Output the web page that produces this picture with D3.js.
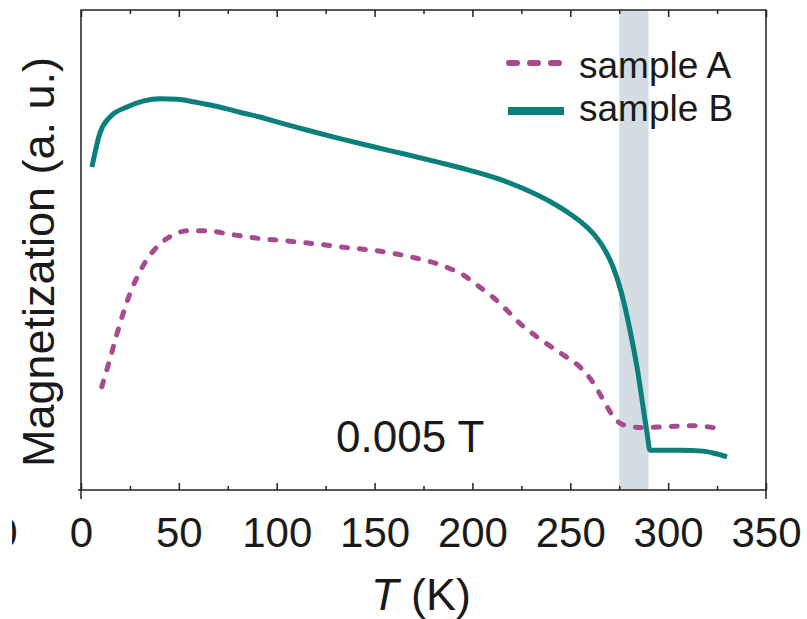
<!DOCTYPE html>
<html>
<head>
<meta charset="utf-8">
<script src="https://cdn.jsdelivr.net/npm/d3@7"></script>
<style>
  html, body { margin: 0; padding: 0; background: #fff; }
  svg { display: block; }
  text { font-family: "Liberation Sans", Arial, sans-serif; fill: #1a1a1a; }
</style>
</head>
<body>
<svg id="chart" width="807" height="619"></svg>
<script>
// ---- data (T in K, magnetization in arbitrary units 0..100) ----
const sampleA_T = [10.6, 14.8, 18.2, 21.6, 25.0, 28.5, 32.7, 38.7, 45.5, 54.8, 65.0, 74.4, 83.8, 93.1, 102.5, 111.9, 122.1, 131.5, 140.9, 150.2, 159.6, 169.0, 178.3, 186.9, 195.3, 203.0, 210.7, 217.5, 224.3, 232.0, 239.6, 247.3, 255.0, 261.6, 266.7, 271.8, 276.9, 287.2, 299.4, 312.7, 321.4, 328.0];
const sampleA_M = [21.5, 27.3, 32.3, 36.9, 40.9, 44.2, 47.4, 50.6, 52.8, 54.0, 54.0, 53.4, 52.8, 52.3, 52.0, 51.6, 51.2, 50.7, 50.3, 49.9, 49.3, 48.5, 47.6, 46.4, 44.8, 42.5, 40.1, 37.5, 34.7, 32.2, 30.0, 27.9, 25.6, 22.4, 18.9, 15.4, 13.6, 13.0, 13.2, 13.4, 13.1, 12.6];

const sampleB_T = [5.6, 9.7, 14.8, 23.5, 31.7, 40.4, 49.0, 57.2, 65.9, 74.6, 82.0, 91.5, 98.3, 115.3, 132.3, 149.4, 166.4, 183.4, 200.4, 214.1, 227.7, 239.6, 249.9, 257.0, 263.0, 268.0, 272.0, 276.0, 280.0, 284.1, 289.2, 290.7, 306.1, 318.0, 324.0, 330.1];
const sampleB_M = [67.3, 74.4, 77.7, 79.8, 81.0, 81.5, 81.4, 80.9, 80.2, 79.4, 78.6, 77.7, 76.9, 75.0, 73.2, 71.5, 69.9, 68.2, 66.4, 64.7, 62.5, 60.1, 57.5, 55.3, 52.8, 49.8, 46.3, 41.3, 34.3, 25.6, 11.9, 8.3, 8.3, 8.1, 7.6, 6.9];

const majorTicks = [0, 50, 100, 150, 200, 250, 300, 350];
const minorTicks = [25, 75, 125, 175, 225, 275, 325];
const band = [275, 290];
const seriesNames = ["sample A", "sample B"];
const fieldLabel = "0.005 T";

// ---- layout ----
const svg = d3.select("#chart");
const L = 81, R = 766, T = 10, B = 490;
const x = d3.scaleLinear().domain([0, 350]).range([L, R]);
const y = d3.scaleLinear().domain([0, 100]).range([B, T]);

const purple = "#a84a8f";
const teal = "#0b7f7a";
const frameColor = "#222";

// band
svg.append("rect")
  .attr("x", x(band[0])).attr("y", T)
  .attr("width", x(band[1]) - x(band[0])).attr("height", B - T)
  .attr("fill", "#d3dde3");

// curves
const line = d3.line().x(d => x(d[0])).y(d => y(d[1])).curve(d3.curveMonotoneX);
const dataA = sampleA_T.map((t, i) => [t, sampleA_M[i]]);
const dataB = sampleB_T.map((t, i) => [t, sampleB_M[i]]);

svg.append("path").datum(dataA)
  .attr("d", line).attr("fill", "none")
  .attr("stroke", purple).attr("stroke-width", 5)
  .attr("stroke-linecap", "round")
  .attr("stroke-dasharray", "6 12");

svg.append("path").datum(dataB)
  .attr("d", line).attr("fill", "none")
  .attr("stroke", teal).attr("stroke-width", 5)
  .attr("stroke-linejoin", "round");

// legend
svg.append("line")
  .attr("x1", 509).attr("x2", 563).attr("y1", 63).attr("y2", 63)
  .attr("stroke", purple).attr("stroke-width", 6)
  .attr("stroke-linecap", "round").attr("stroke-dasharray", "8 13");
svg.append("line")
  .attr("x1", 508).attr("x2", 564).attr("y1", 111).attr("y2", 111)
  .attr("stroke", teal).attr("stroke-width", 8);
svg.append("text").attr("x", 579).attr("y", 78)
  .style("font-size", "37px").text(seriesNames[0]);
svg.append("text").attr("x", 579).attr("y", 121)
  .style("font-size", "37px").text(seriesNames[1]);

// field annotation
svg.append("text").attr("x", 336).attr("y", 452)
  .style("font-size", "44px").text(fieldLabel);

// axes
const gB = svg.append("g").attr("transform", `translate(0,${B})`)
  .call(d3.axisBottom(x).tickValues(majorTicks).tickSize(-7).tickFormat(d3.format("d")));
gB.select(".domain").remove();
gB.selectAll("line").attr("stroke", frameColor).attr("stroke-width", 1.5);
gB.selectAll("text")
  .attr("y", 57).attr("dy", null)
  .style("font-size", "42px")
  .style("font-family", '"Liberation Sans", Arial, sans-serif')
  .attr("fill", "#1a1a1a");

const gBm = svg.append("g").attr("transform", `translate(0,${B})`)
  .call(d3.axisBottom(x).tickValues(minorTicks).tickSize(-4).tickFormat(""));
gBm.select(".domain").remove();
gBm.selectAll("line").attr("stroke", frameColor).attr("stroke-width", 1.5);

const gT = svg.append("g").attr("transform", `translate(0,${T})`)
  .call(d3.axisTop(x).tickValues(majorTicks).tickSize(-7).tickFormat(""));
gT.select(".domain").remove();
gT.selectAll("line").attr("stroke", frameColor).attr("stroke-width", 1.5);

const gTm = svg.append("g").attr("transform", `translate(0,${T})`)
  .call(d3.axisTop(x).tickValues(minorTicks).tickSize(-4).tickFormat(""));
gTm.select(".domain").remove();
gTm.selectAll("line").attr("stroke", frameColor).attr("stroke-width", 1.5);

// frame
svg.append("rect")
  .attr("x", L).attr("y", T).attr("width", R - L).attr("height", B - T)
  .attr("fill", "none").attr("stroke", frameColor).attr("stroke-width", 1.5);
svg.append("line").attr("x1", L).attr("x2", L).attr("y1", B).attr("y2", B + 9)
  .attr("stroke", frameColor).attr("stroke-width", 1.5);
svg.append("line").attr("x1", R).attr("x2", R).attr("y1", B).attr("y2", B + 9)
  .attr("stroke", frameColor).attr("stroke-width", 1.5);
svg.append("line").attr("x1", L - 3).attr("x2", L).attr("y1", B).attr("y2", B)
  .attr("stroke", frameColor).attr("stroke-width", 1.5);

// clipped label fragment at far left (from neighbouring panel)
svg.append("clipPath").attr("id", "leftclip")
  .append("rect").attr("x", 12).attr("y", 500).attr("width", 20).attr("height", 60);
svg.append("text").attr("x", 6).attr("y", 547)
  .attr("text-anchor", "middle").attr("clip-path", "url(#leftclip)")
  .style("font-size", "42px").text("0");

// axis titles
const xt = svg.append("text").attr("x", 421).attr("y", 610)
  .attr("text-anchor", "middle").style("font-size", "45px");
xt.append("tspan").style("font-style", "italic").text("T");
xt.append("tspan").text(" (K)");

svg.append("text")
  .attr("transform", "translate(54,262) rotate(-90)")
  .attr("text-anchor", "middle").style("font-size", "45px")
  .text("Magnetization (a. u.)");
</script>
</body>
</html>
